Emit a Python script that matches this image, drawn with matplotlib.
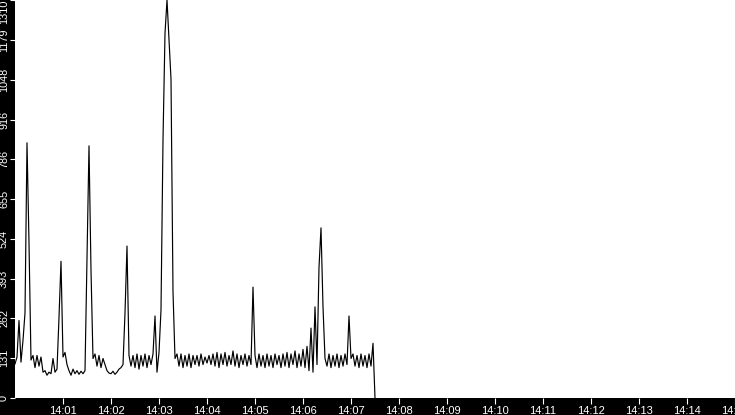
import matplotlib
matplotlib.use('Agg')
import matplotlib.pyplot as plt
import matplotlib.dates as mdates
from datetime import datetime, timedelta

plt.rcParams['font.family'] = ['Liberation Sans', 'DejaVu Sans']

# Sampled values (one every 2.5 s starting 14:00:00)
values = [
    112, 135, 255, 118, 190, 280, 840, 510, 125, 140,
    100, 140, 105, 135, 85, 90, 75, 85, 80, 130,
    85, 95, 265, 450, 135, 150, 110, 90, 75, 95,
    80, 90, 78, 88, 80, 90, 450, 830, 420, 130,
    145, 105, 140, 100, 130, 110, 90, 82, 80, 88,
    78, 85, 95, 100, 110, 280, 500, 140, 105, 140,
    100, 145, 95, 140, 105, 145, 100, 140, 110, 145,
    270, 85, 150, 290, 850, 1200, 1310, 1180, 1050, 350,
    130, 145, 105, 145, 100, 140, 105, 145, 100, 140,
    110, 140, 105, 145, 110, 135, 115, 140, 110, 145,
    105, 150, 100, 145, 110, 150, 105, 140, 110, 155,
    105, 145, 100, 140, 110, 145, 105, 140, 110, 365,
    140, 100, 145, 105, 140, 100, 145, 105, 140, 100,
    145, 110, 140, 100, 145, 105, 150, 100, 145, 110,
    155, 100, 145, 105, 160, 100, 170, 90, 230, 85,
    300, 110, 430, 560, 300, 130, 105, 145, 100, 140,
    105, 145, 100, 140, 105, 145, 110, 270, 130, 145,
    105, 140, 100, 145, 105, 140, 100, 145, 105, 180,
    0,
]
SAMPLE_SECONDS = 2.5
y_ticks = [0, 131, 262, 393, 524, 655, 786, 916, 1048, 1179, 1310]
x_tick_minutes = list(range(1, 16))

start = datetime(2024, 1, 1, 14, 0, 0)
times = [start + timedelta(seconds=SAMPLE_SECONDS * i) for i in range(len(values))]

fig = plt.figure(figsize=(7.35, 4.15), dpi=100, facecolor='black')
ax = fig.add_axes([15 / 735, 17 / 415, 720 / 735, 398 / 415])
ax.set_facecolor('white')
ax.plot(mdates.date2num(times), values, color='black', lw=0.85)

ax.set_xlim(mdates.date2num(start), mdates.date2num(start + timedelta(minutes=15)))
ax.set_ylim(0, 1310)
ax.set_xticks([mdates.date2num(start + timedelta(minutes=m)) for m in x_tick_minutes])
ax.xaxis.set_major_formatter(mdates.DateFormatter('%H:%M'))
ax.set_yticks(y_ticks)
ax.set_yticklabels([str(v) for v in y_ticks], rotation=90, va='center')
ax.get_yticklabels()[-1].set_va('top')
ax.tick_params(axis='x', colors='white', length=4.5, width=0.8, labelsize=8, pad=1)
ax.tick_params(axis='y', colors='white', length=3.8, width=0.8, labelsize=7.8, pad=0.5)
for s in ax.spines.values():
    s.set_visible(False)

fig.savefig('out.png', dpi=100, facecolor='black')
